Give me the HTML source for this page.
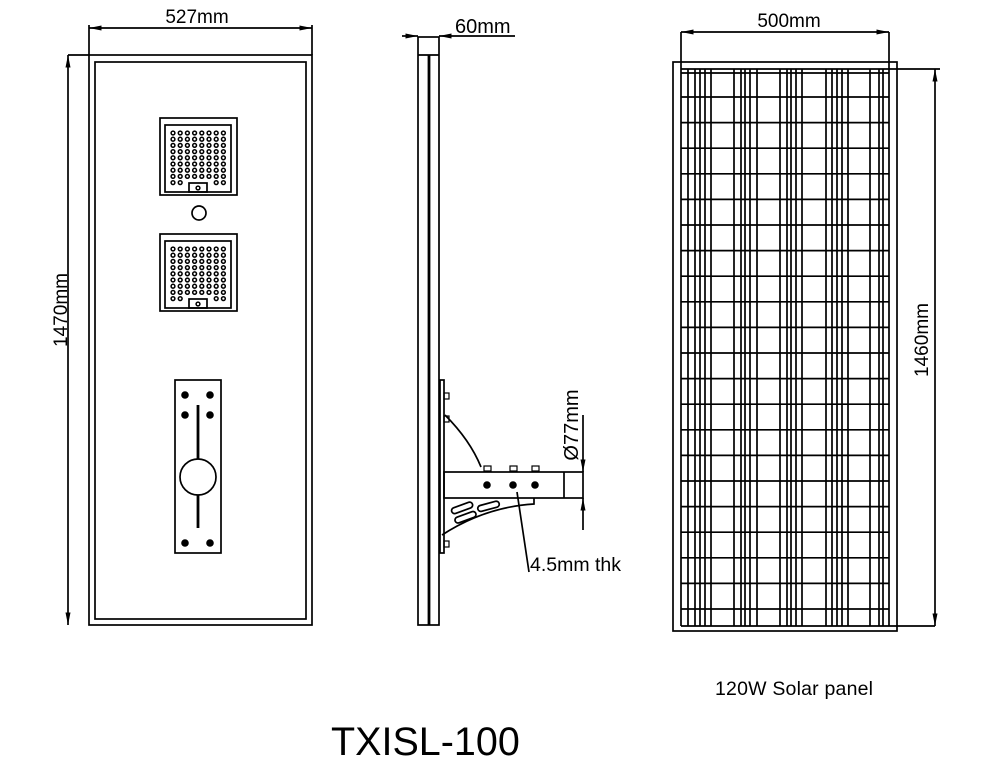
<!DOCTYPE html>
<html><head><meta charset="utf-8"><style>
html,body{margin:0;padding:0;background:#fff;width:1003px;height:764px;overflow:hidden}
svg{display:block}
text{font-family:"Liberation Sans",Arial,sans-serif;fill:#000}
</style></head><body>
<svg id="s" width="1003" height="764" viewBox="0 0 1003 764" fill="none" stroke="#000" stroke-width="1.7">
<defs>
<marker id="ar" viewBox="0 0 10 4" refX="10" refY="2" markerWidth="16" markerHeight="5" markerUnits="userSpaceOnUse" orient="auto"><path d="M0,0 L10,2 L0,4z" fill="#000" stroke="none"/></marker>
<marker id="as" viewBox="0 0 10 4" refX="0" refY="2" markerWidth="16" markerHeight="5" markerUnits="userSpaceOnUse" orient="auto"><path d="M10,0 L0,2 L10,4z" fill="#000" stroke="none"/></marker>
</defs>
<!-- FRONT VIEW -->
<rect x="89" y="55" width="223" height="570"/>
<rect x="95" y="62" width="211" height="557"/>
<line x1="89" y1="55" x2="89" y2="25"/><line x1="312" y1="55" x2="312" y2="25"/>
<line x1="89" y1="28" x2="312" y2="28" marker-start="url(#as)" marker-end="url(#ar)"/>
<line x1="68" y1="55" x2="89" y2="55"/>
<line x1="68" y1="55" x2="68" y2="625" marker-start="url(#as)" marker-end="url(#ar)"/>
<text x="197" y="23" font-size="19" text-anchor="middle" stroke="none">527mm</text>
<text transform="translate(67,310) rotate(-90)" font-size="19" text-anchor="middle" stroke="none">1470mm</text>
<g id="leds"></g>
<circle cx="199" cy="213" r="7"/>
<!-- mount plate -->
<rect x="175" y="380" width="46" height="173"/>
<line x1="198" y1="405" x2="198" y2="459" stroke-width="2.8"/>
<circle cx="198" cy="477" r="18"/>
<line x1="198" y1="495" x2="198" y2="528" stroke-width="2.8"/>
<g fill="#000" stroke="none">
<circle cx="185" cy="395" r="3.8"/><circle cx="210" cy="395" r="3.8"/>
<circle cx="185" cy="415" r="3.8"/><circle cx="210" cy="415" r="3.8"/>
<circle cx="185" cy="543" r="3.8"/><circle cx="210" cy="543" r="3.8"/>
</g>
<!-- SIDE VIEW -->
<rect x="418" y="37" width="21" height="588"/>
<line x1="418" y1="55" x2="439" y2="55"/>
<line x1="429" y1="55" x2="429" y2="625" stroke-width="2.8"/>
<line x1="402" y1="36" x2="418" y2="36" marker-end="url(#ar)"/>
<line x1="515" y1="36" x2="439" y2="36" marker-end="url(#ar)"/>
<text x="455" y="33" font-size="20" stroke="none">60mm</text>
<!-- bracket -->
<rect x="440" y="380" width="4" height="173"/>
<rect x="444" y="472" width="139" height="26"/>
<line x1="564" y1="472" x2="564" y2="498"/>
<path d="M445,415 Q470,440 481,467"/>
<path d="M442,535 Q485,507 534,504 L534,498"/>
<g transform="rotate(-20 465 510)"><rect x="452" y="504" width="22" height="6" rx="3"/><rect x="452" y="514" width="22" height="6" rx="3"/></g>
<g transform="rotate(-15 490 508)"><rect x="478" y="503" width="22" height="6" rx="3"/></g>
<g fill="#000" stroke="none">
<circle cx="487" cy="485" r="3.8"/><circle cx="513" cy="485" r="3.8"/><circle cx="535" cy="485" r="3.8"/>
</g>
<g stroke-width="1.2">
<rect x="484" y="466" width="7" height="5"/><rect x="510" y="466" width="7" height="5"/><rect x="532" y="466" width="7" height="5"/>
<rect x="444" y="393" width="5" height="6"/><rect x="444" y="416" width="5" height="6"/><rect x="444" y="541" width="5" height="6"/>
</g>
<line x1="583" y1="415" x2="583" y2="472" marker-end="url(#ar)"/>
<line x1="583" y1="530" x2="583" y2="498" marker-end="url(#ar)"/>
<text transform="translate(578,425) rotate(-90)" font-size="20" text-anchor="middle" stroke="none">Ø77mm</text>
<line x1="517" y1="492" x2="529" y2="572"/>
<text x="530" y="571" font-size="19.5" stroke="none">4.5mm thk</text>
<!-- SOLAR PANEL -->
<rect x="673" y="62" width="224" height="569"/>
<line x1="681" y1="69" x2="889" y2="69"/><line x1="681" y1="73" x2="889" y2="73"/>
<line x1="681" y1="626" x2="889" y2="626"/>
<line x1="681" y1="32" x2="681" y2="626"/><line x1="889" y1="32" x2="889" y2="626"/>
<line x1="681" y1="32" x2="889" y2="32" marker-start="url(#as)" marker-end="url(#ar)"/>
<line x1="889" y1="69" x2="940" y2="69"/><line x1="889" y1="626" x2="935" y2="626"/>
<line x1="935" y1="69" x2="935" y2="626" marker-start="url(#as)" marker-end="url(#ar)"/>
<g id="grid"></g>
<text x="789" y="27" font-size="19" text-anchor="middle" stroke="none">500mm</text>
<text transform="translate(928,340) rotate(-90)" font-size="19" text-anchor="middle" stroke="none">1460mm</text>
<text x="715" y="695" font-size="19.5" textLength="158" stroke="none">120W Solar panel</text>
<text x="331" y="755" font-size="39.5" stroke="none">TXISL-100</text>
</svg>
<script>
var NS="http://www.w3.org/2000/svg";
function el(p,t,a){var e=document.createElementNS(NS,t);for(var k in a)e.setAttribute(k,a[k]);p.appendChild(e);return e;}
var L=document.getElementById('leds');
[118,234].forEach(function(y0){
 el(L,'rect',{x:160,y:y0,width:77,height:77});
 el(L,'rect',{x:165,y:y0+7,width:66,height:67});
 for(var r=0;r<9;r++)for(var c=0;c<8;c++){
  if(r==8&&c>=2&&c<=5)continue;
  el(L,'circle',{cx:173+c*7.2,cy:y0+15+r*6.2,r:1.9,'stroke-width':1.5});
 }
 el(L,'rect',{x:189,y:y0+65,width:18,height:9});
 el(L,'circle',{cx:198,cy:y0+70,r:1.9,'stroke-width':1.5});
});
var G=document.getElementById('grid');
[688,695,700,705,711,734,741,745,750,757,780,787,791,796,802,826,832,837,842,848,870,879,883].forEach(function(x){el(G,'line',{x1:x,y1:69,x2:x,y2:626});});
for(var i=0;i<=20;i++){var y=97+i*25.6;el(G,'line',{x1:681,y1:y,x2:889,y2:y});}
</script>
</body></html>
